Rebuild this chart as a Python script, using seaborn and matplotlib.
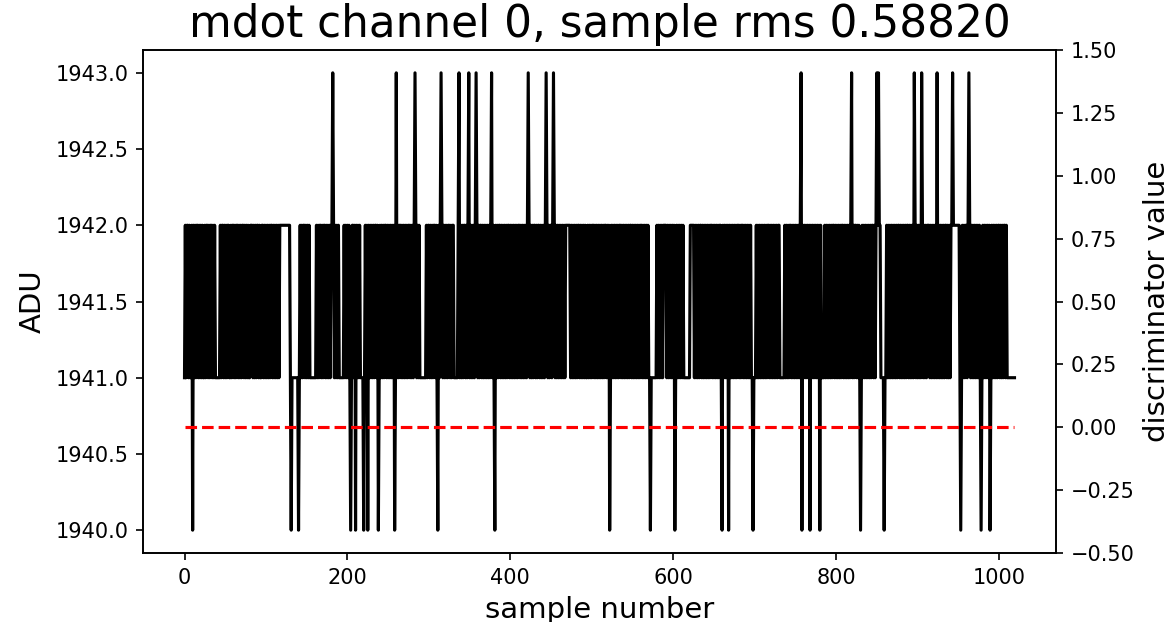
"""
Traza de ADU del canal mdot con el valor del discriminador en un eje secundario
"""

import numpy as np
import pandas as pd
import matplotlib
matplotlib.use("Agg")
import matplotlib.pyplot as plt
import seaborn as sns

# Muestras: dígito = ADU - 1940 (0 -> 1940, 3 -> 1943)
# Cada fila son 60 muestras, en grupos de 10
adu_rows = [
    "1212212112 0212122121 2121121221 2122121211 1111212212 1212211212",
    "2121221212 1221212121 1222121212 2121122121 2121212212 1212121222",
    "2222222222 1011111111 0121212212 1212111111 1121212212 1221212121",
    "2232121212 1111112121 2121012212 0212121111 0121202121 2121221201",
    "2121212212 1212121201 3121221212 1212122121 2123212121 1111111212",
    "2121212212 1021232121 2121221212 2111112312 1212212123 1212121232",
    "1212212121 2121212312 1021212212 1212121221 2121212121 2212121212",
    "1232121212 2121221212 1212321212 2123212121 2121212122 2222121212",
    "1212212121 2121121212 1221212121 2121212212 1201212121 2121221212",
    "1212121221 2121212121 2212121212 1101111111 2121212122 2212121212",
    "1201212121 2121111111 1222221212 1212212121 2121212212 1212121221",
    "0212121202 1212121212 2121221212 1212121101 1121212121 2121212212",
    "1212121212 2111111212 1212212121 2121212302 1212121202 1212121212",
    "0211112121 2121212212 1212121221 2121212123 1212212121 0121212121",
    "2121221212 3232211110 1121212121 2121212212 1212121221 2121213212",
    "1212132121 2122212121 2121312121 2121221212 1223222222 2210121212",
    "2123212121 2121212101 2121212120 1212121212 2121212212 1111111111",
]
adu_base = 1940

title_text = "mdot channel 0, sample rms 0.58820"
adu_ticks = [1940.0, 1940.5, 1941.0, 1941.5, 1942.0, 1942.5, 1943.0]
disc_ticks = [-0.50, -0.25, 0.00, 0.25, 0.50, 0.75, 1.00, 1.25, 1.50]


def build_frame():
    digits = "".join(row.replace(" ", "") for row in adu_rows)
    adu = np.array([adu_base + int(d) for d in digits], dtype=float)
    n = len(adu)
    df = pd.DataFrame({
        "sample": np.arange(n),
        "adu": adu,
        "disc": np.zeros(n),  # discriminador sin disparos
    })
    return df


def main():
    df = build_frame()

    fig = plt.figure(figsize=(1169 / 150, 622 / 150), dpi=150)
    ax = fig.add_axes([143 / 1169, 1 - 553 / 622, (1056 - 143) / 1169, (553 - 50) / 622])

    sns.lineplot(data=df, x="sample", y="adu", ax=ax, color="black",
                 linewidth=1.5, estimator=None, legend=False)
    ax.set_yticks(adu_ticks)
    ax.set_yticklabels([f"{t:.1f}" for t in adu_ticks])
    ax.set_xlabel("sample number", fontsize=14)
    ax.set_ylabel("ADU", fontsize=14)
    ax.set_title(title_text, fontsize=21)
    ax.tick_params(labelsize=10)

    ax2 = ax.twinx()
    sns.lineplot(data=df, x="sample", y="disc", ax=ax2, color="red",
                 linestyle="--", linewidth=1.5, estimator=None, legend=False)
    ax2.set_ylim(-0.5, 1.5)
    ax2.set_yticks(disc_ticks)
    ax2.set_yticklabels([f"{t:.2f}".replace("-", "\u2212") for t in disc_ticks])
    ax2.set_ylabel("discriminator value", fontsize=14)
    ax2.tick_params(labelsize=10)

    fig.savefig("out.png", dpi=150)
    plt.close(fig)


if __name__ == "__main__":
    main()
